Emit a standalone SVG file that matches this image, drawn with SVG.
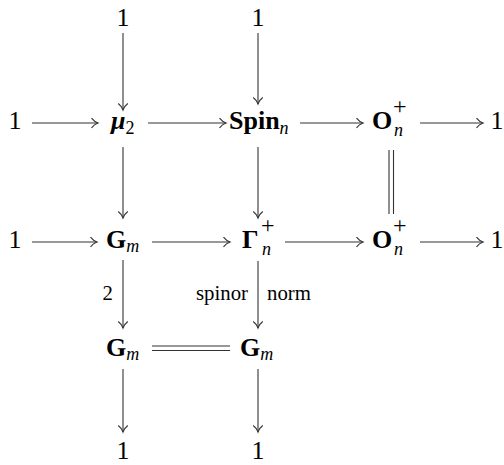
<svg xmlns="http://www.w3.org/2000/svg" width="504" height="465" viewBox="0 0 504 465">
<style>
text{font-family:"Liberation Serif","Times New Roman",serif;fill:#000}
.m{font-size:26px}
.s{font-size:18px}
.p{font-size:24px}
.l{font-size:20.8px}
.b{font-weight:bold}
.i{font-style:italic}
.c line{stroke:#333;stroke-width:1.1;fill:none}
</style>
<defs>
<marker id="ah" viewBox="-8 -6 10 12" markerWidth="10" markerHeight="12" refX="0" refY="0" orient="auto" markerUnits="userSpaceOnUse">
<path d="M-6.5,-4.8 C-4.5,-2.2 -1.8,-0.6 0,0 C-1.8,0.6 -4.5,2.2 -6.5,4.8" fill="none" stroke="#333" stroke-width="1.1"/>
</marker>
</defs>
<rect width="504" height="465" fill="#fff"/>
<g font-family="Liberation Serif, Times New Roman, serif">
<g id="n_top1"><text class="m" x="123" y="26" text-anchor="middle">1</text></g>
<g id="n_top2"><text class="m" x="258" y="26" text-anchor="middle">1</text></g>
<g id="n_r1_1"><text class="m" x="15" y="129" text-anchor="middle">1</text></g>
<g id="n_mu2"><text x="111" y="129"><tspan class="m b i">μ</tspan><tspan class="s" dy="5">2</tspan></text></g>
<g id="n_spin"><text x="229" y="129"><tspan class="m b">Spin</tspan><tspan class="s i" dy="5">n</tspan></text></g>
<g id="n_o1"><text class="m b" x="372" y="129">O</text><text class="p" x="393" y="114">+</text><text class="s i" x="394" y="136">n</text></g>
<g id="n_r1_5"><text class="m" x="497" y="129" text-anchor="middle">1</text></g>
<g id="n_r2_1"><text class="m" x="15" y="248" text-anchor="middle">1</text></g>
<g id="n_gm1"><text x="106" y="248"><tspan class="m b">G</tspan><tspan class="s i" dy="4">m</tspan></text></g>
<g id="n_gamma"><text class="m b" x="242" y="248">Γ</text><text class="p" x="261" y="233">+</text><text class="s i" x="262" y="255">n</text></g>
<g id="n_o2"><text class="m b" x="372" y="248">O</text><text class="p" x="393" y="233">+</text><text class="s i" x="394" y="255">n</text></g>
<g id="n_r2_5"><text class="m" x="497" y="248" text-anchor="middle">1</text></g>
<g id="n_gm2"><text x="106" y="356"><tspan class="m b">G</tspan><tspan class="s i" dy="4">m</tspan></text></g>
<g id="n_gm3"><text x="240" y="356"><tspan class="m b">G</tspan><tspan class="s i" dy="4">m</tspan></text></g>
<g id="n_bot1"><text class="m" x="123" y="459" text-anchor="middle">1</text></g>
<g id="n_bot2"><text class="m" x="258" y="459" text-anchor="middle">1</text></g>
<g id="connectors" class="c">
<line x1="123" y1="33" x2="123" y2="110" marker-end="url(#ah)"/>
<line x1="258" y1="33" x2="258" y2="104" marker-end="url(#ah)"/>
<line x1="32" y1="123" x2="98" y2="123" marker-end="url(#ah)"/>
<line x1="148" y1="123" x2="226" y2="123" marker-end="url(#ah)"/>
<line x1="300" y1="123" x2="363" y2="123" marker-end="url(#ah)"/>
<line x1="420" y1="123" x2="483" y2="123" marker-end="url(#ah)"/>
<line x1="123" y1="147" x2="123" y2="218" marker-end="url(#ah)"/>
<line x1="258" y1="147" x2="258" y2="218" marker-end="url(#ah)"/>
<line x1="389" y1="150" x2="389" y2="214"/>
<line x1="393.5" y1="150" x2="393.5" y2="214"/>
<line x1="32" y1="242" x2="97" y2="242" marker-end="url(#ah)"/>
<line x1="152" y1="242" x2="230" y2="242" marker-end="url(#ah)"/>
<line x1="285" y1="242" x2="363" y2="242" marker-end="url(#ah)"/>
<line x1="420" y1="242" x2="483" y2="242" marker-end="url(#ah)"/>
<line x1="123" y1="260" x2="123" y2="328" marker-end="url(#ah)"/>
<line x1="258" y1="261" x2="258" y2="328" marker-end="url(#ah)"/>
<line x1="152" y1="346" x2="230" y2="346"/>
<line x1="152" y1="350.5" x2="230" y2="350.5"/>
<line x1="123" y1="369" x2="123" y2="432" marker-end="url(#ah)"/>
<line x1="258" y1="369" x2="258" y2="432" marker-end="url(#ah)"/>
<text class="l" x="113" y="300" text-anchor="end">2</text>
<text class="l" x="248" y="300" text-anchor="end">spinor</text>
<text class="l" x="267" y="300">norm</text>
</g>
</g>
</svg>
